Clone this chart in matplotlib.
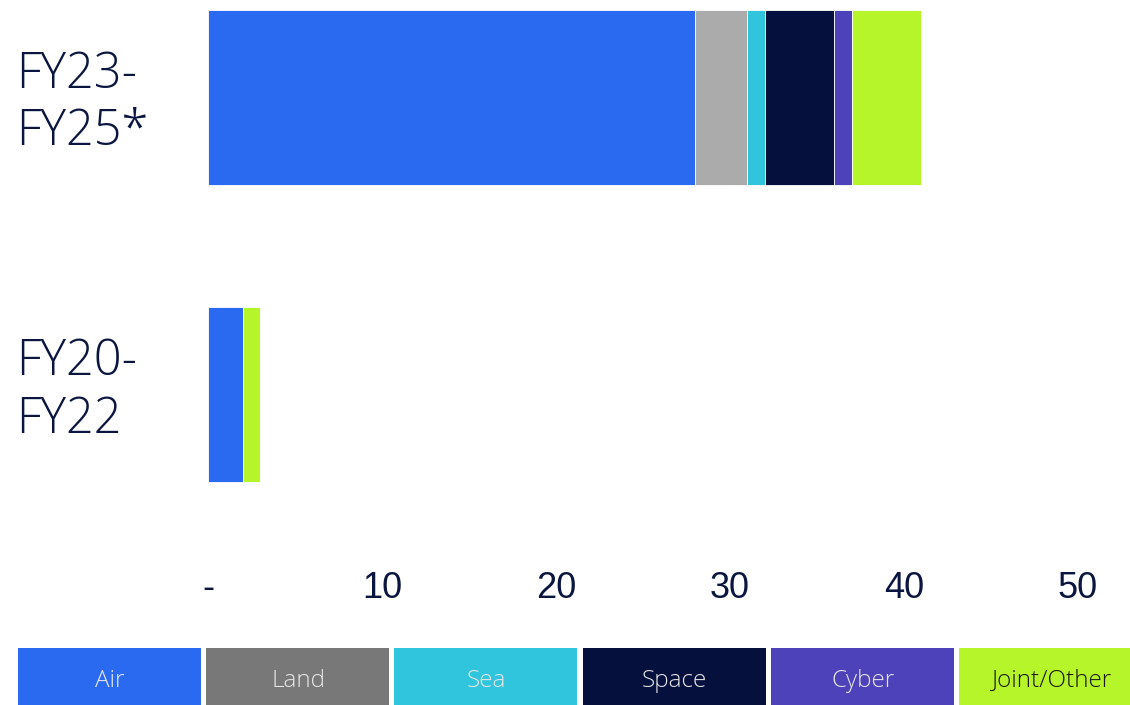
import matplotlib.pyplot as plt
from matplotlib.patches import Rectangle
from matplotlib import transforms

periods = ["FY20-\nFY22", "FY23-\nFY25*"]
domains = ["Air", "Land", "Sea", "Space", "Cyber", "Joint/Other"]
values = {
    "Air":         [2.0, 28.0],
    "Land":        [0.0, 3.0],
    "Sea":         [0.0, 1.0],
    "Space":       [0.0, 4.0],
    "Cyber":       [0.0, 1.0],
    "Joint/Other": [1.0, 4.0],
}
xticks = [0, 10, 20, 30, 40, 50]
xtick_labels = ["-", "10", "20", "30", "40", "50"]

bar_colors = ["#2A6AF0", "#ABABAB", "#31C5DD", "#06103D", "#4E42BB", "#B6F52A"]
legend_colors = ["#2A6AF0", "#787878", "#31C5DD", "#06103D", "#4E42BB", "#B6F52A"]
legend_text = ["#E6E6E6", "#E6E6E6", "#E6E6E6", "#E6E6E6", "#E6E6E6", "#1A1A1A"]
navy = "#0B1640"
label_font = "Open Sans"

fig = plt.figure(figsize=(11.3, 7.05), dpi=100)
ax = fig.add_axes([208 / 1130, 165 / 705, 922 / 1130, 540 / 705])

ypos = [0, 1]
left = [0.0, 0.0]
for name, color in zip(domains, bar_colors):
    vals = values[name]
    ax.barh(ypos, vals, left=left, height=0.59, color=color,
            edgecolor="white", linewidth=0.6)
    left = [l + v for l, v in zip(left, vals)]

ax.set_xlim(0, 922 / 17.4)
ax.set_ylim(-0.492, 1.329)
ax.set_xticks(xticks)
ax.set_xticklabels(xtick_labels, fontsize=26, color=navy,
                   fontfamily="Liberation Sans")
ax.tick_params(axis="x", length=0, pad=22)
ax.set_yticks([])
for s in ax.spines.values():
    s.set_visible(False)

# period labels on the far left
trans = transforms.blended_transform_factory(fig.transFigure, ax.transData)
for y, lab, dy in zip(ypos, periods, [0.01, -0.02]):
    fig.text(16 / 1130, y + dy, lab, transform=trans, ha="left",
             va="center", fontsize=35, color=navy, fontfamily=label_font,
             fontweight="light", linespacing=1.2)

# legend boxes along the bottom
x0 = 18
for name, fc, tc in zip(domains, legend_colors, legend_text):
    fig.patches.append(Rectangle((x0 / 1130, 0), 183 / 1130, 57 / 705,
                                 transform=fig.transFigure, facecolor=fc,
                                 edgecolor="none", zorder=0))
    fig.text((x0 + 92) / 1130, 24 / 705, name, ha="center", va="center",
             fontsize=17.5, color=tc, fontfamily=label_font,
             fontweight="light", zorder=5)
    x0 += 188.2

fig.savefig("out.png", dpi=100)
